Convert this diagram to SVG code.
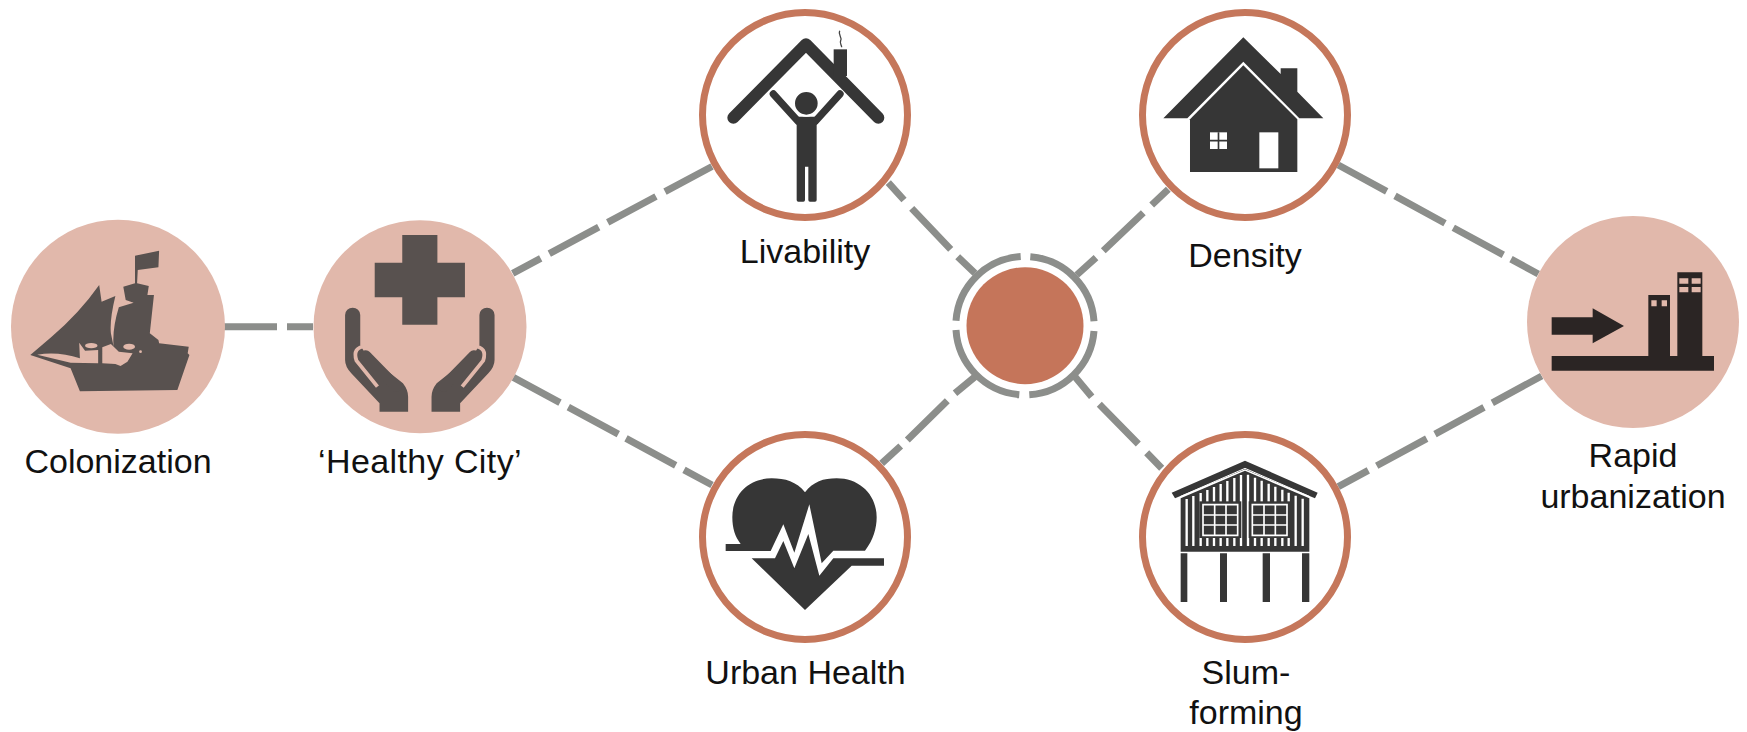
<svg xmlns="http://www.w3.org/2000/svg" width="1747" height="732" viewBox="0 0 1747 732">
<style>
.lbl{font-family:"Liberation Sans",Arial,sans-serif;font-size:34px;fill:#111;text-anchor:middle}
.conn{fill:none;stroke:#8c8e8b;stroke-width:7}
.pink{fill:#e1b8ab}
.ring{fill:#fff;stroke:#c5775b;stroke-width:7}
.d1{fill:#58514f}
.d2{fill:#363636}
.d3{fill:#2b2524}
.w{fill:#fff}
</style>
<rect width="1747" height="732" fill="#fff"/>
<g id="connectors" class="conn">
<path d="M224,326.700H277M287,326.700H313"/>
<path d="M512.7,273.3L540.7,258.3M549.3,253.7L598.7,227.2M607.7,222.4L656,196.5M665,191.7L712,166.5"/>
<path d="M513.3,377.3L560,402.6M568.3,407.1L618.3,434.2M626,438.4L675.7,465.3M684,469.8L712,485"/>
<path d="M1338.3,165L1386.7,191.4M1395,195.9L1445,223.2M1453.3,227.7L1503.3,254.9M1511,259.1L1538.3,274"/>
<path d="M1338.3,486.7L1368.3,470.4M1376.7,465.8L1426.7,438.6M1435,434.1L1484,407.4M1492.3,402.9L1541.7,376"/>
<path d="M888.3,182.7L904,200M911.7,208.3L950.7,249.3M957.7,256.7L975,273.3"/>
<path d="M1168.3,189.3L1151.7,205M1143.3,212.7L1103.3,250.7M1096,257.7L1076.7,275"/>
<path d="M881.7,463.3L900.7,446M907.3,440L947.3,400.7M955,393.3L975,376.7"/>
<path d="M1161.7,468.3L1146.7,452.7M1138.3,444L1099.3,404.3M1091.7,396.7L1075,376.7"/>
</g>
<g id="node-colonization">
<circle class="pink" cx="118" cy="326.700" r="107"/>
<g transform="translate(0,190) scale(.3444,.33333)">
<path class="d1" d="M88,495L150,440Q230,370 288,285L295,335L335,318Q318,390 322,430L330,470Q325,420 345,352L388,338L365,330L358,290L392,280V197L462,182L460,232L400,240L398,280L432,288L428,315L447,315L435,430L460,450L462,460L548,470L545,490L550,495L515,600L232,604L205,535Z"/>
<path class="pink" d="M108,494Q170,484 232,505L230,458L247,482L285,480V520L205,518Z"/>
<path class="pink" d="M297,472L322,462L345,485L385,490L370,515L350,528L335,522L297,520Z"/>
<ellipse class="pink" cx="265" cy="467" rx="18" ry="8"/>
<ellipse class="pink" cx="375" cy="470" rx="17" ry="9"/>
<circle class="pink" cx="408" cy="485" r="4"/>
</g>
<text class="lbl" x="118" y="473">Colonization</text>
</g>
<g id="node-healthy-city">
<circle class="pink" cx="420" cy="326.700" r="106.500"/>
<g transform="translate(0,190) scale(.3444,.33333)">
<path class="d1" d="M1168,135H1270V218H1350V322H1270V404H1168V322H1088V218H1168Z"/>
<g id="hand">
<path class="d1" d="M1002,375A22,22 0 0 1 1046,375V465L1060,490L1170,580Q1185,600 1185,620V665H1102V640L1020,550Q1002,530 1002,510Z"/>
<path fill="none" stroke="#e1b8ab" stroke-width="11" d="M1062,468Q1022,472 1035,512L1096,590"/>
<path fill="none" stroke="#58514f" stroke-width="32" stroke-linecap="round" d="M1062,497L1150,590"/>
</g>
<use href="#hand" transform="translate(2438,0) scale(-1,1)"/>
</g>
<text class="lbl" x="420" y="473" style="letter-spacing:.4px">‘Healthy City’</text>
</g>
<g id="node-livability">
<circle class="ring" cx="805" cy="115" r="102.500"/>
<g transform="translate(690,0) scale(.33333)">
<path fill="none" stroke="#363636" stroke-width="36" stroke-linecap="round" stroke-linejoin="round" d="M130,353L348,133L565,353"/>
<rect class="d2" x="431" y="148" width="40" height="80"/>
<path fill="none" stroke="#444" stroke-width="4" d="M449,92C443,105 458,112 452,122C448,130 455,135 455,142"/>
<path fill="none" stroke="#363636" stroke-width="22" stroke-linecap="round" d="M250,282L325,365M450,282L375,365"/>
<path class="d2" d="M320,350H380V600Q380,605 375,605H360Q355,605 355,600V500H345V600Q345,605 340,605H325Q320,605 320,600Z"/>
<circle class="d2" cx="349" cy="310" r="37" stroke="#fff" stroke-width="6"/>
</g>
<text class="lbl" x="805" y="263">Livability</text>
</g>
<g id="node-density">
<circle class="ring" cx="1245" cy="115" r="102.500"/>
<g transform="translate(1130,0) scale(.33333)">
<path class="d2" d="M340,112L452,222V205H502V275L580,355H508L340,185L172,355H100Z"/>
<path class="d2" d="M340,196L502,358V516H180V358Z"/>
<rect class="w" x="240" y="397" width="51" height="50"/>
<path fill="none" stroke="#363636" stroke-width="5" d="M265.500,397V447M240,422H291"/>
<rect class="w" x="388" y="397" width="57" height="108"/>
</g>
<text class="lbl" x="1245" y="267">Density</text>
</g>
<g id="node-urban-health">
<circle class="ring" cx="805" cy="537" r="102.500"/>
<g transform="translate(690,430) scale(.33333)">
<path class="d2" d="M345,187C320,155 285,145 245,145C175,145 127,195 127,262C127,295 135,320 152,342H107V363H242L280,283L313,368L358,223L395,400L430,362H525C550,330 560,295 560,262C560,195 510,145 440,145C400,145 370,155 345,187Z"/>
<path class="d2" d="M185,385H255L280,333L313,415L355,312L388,437L430,385H582V407H485L345,540Z"/>
</g>
<text class="lbl" x="805.500" y="684">Urban Health</text>
</g>
<g id="node-slum-forming">
<circle class="ring" cx="1245" cy="537" r="102.500"/>
<g transform="translate(1130,430) scale(.33333)">
<path class="d2" d="M345,92L563,188L555,205L345,118L135,205L125,188Z"/>
<path class="d2" d="M345,122L538,205V365H152V205Z"/>
<path fill="none" stroke="#fff" stroke-width="3" d="M150,200L345,115L540,200"/>
<path fill="none" stroke="#fff" stroke-width="7" d="M170,207V348M190,198V348M212,189V348M232,180V348M252,171V348M272,162V348M292,153V348M313,144V348M333,135V348M354,134V348M375,143V348M395,152V348M416,161V348M436,170V348M457,179V348M476,188V348M497,197V348M518,206V348"/>
<rect class="d2" x="208" y="214" width="126" height="110"/>
<rect class="d2" x="356" y="214" width="126" height="110"/>
<path fill="none" stroke="#fff" stroke-width="5" d="M219,224H323V316H219ZM254,224V316M288,224V316M219,255H323M219,285H323M367,224H471V316H367ZM402,224V316M436,224V316M367,255H471M367,285H471"/>
<path class="d2" d="M152,370H172V516H152ZM270,370H291V516H270ZM398,370H420V516H398ZM516,370H538V516H516Z"/>
</g>
<text class="lbl" x="1246" y="684">Slum-</text>
<text class="lbl" x="1246" y="724">forming</text>
</g>
<g id="node-center">
<g class="conn">
<path d="M956,320.700A69.200,69.200 0 0 1 1020.700,256.600"/>
<path d="M1030.300,256.800A69.200,69.200 0 0 1 1094,321.300"/>
<path d="M1094,331A69.200,69.200 0 0 1 1029.300,394.800"/>
<path d="M1019.300,394.700A69.200,69.200 0 0 1 956,330"/>
</g>
<circle cx="1025" cy="325.700" r="58.500" fill="#c5755a"/>
</g>
<g id="node-rapid-urbanization">
<circle class="pink" cx="1633" cy="322" r="106"/>
<g transform="translate(1500,200) scale(.33333)">
<path class="d3" d="M155,352H278V325L372,378L278,430V404H155Z"/>
<path class="d3" d="M155,468H445V285H510V468H532V217H607V468H642V512H155Z"/>
<path class="pink" d="M454,301h16v18h-16ZM485,301h16v18h-16ZM538,235h27v16h-27ZM575,235h27v16h-27ZM538,261h27v16h-27ZM575,261h27v16h-27Z"/>
</g>
<text class="lbl" x="1633" y="467">Rapid</text>
<text class="lbl" x="1633" y="508">urbanization</text>
</g>
</svg>
